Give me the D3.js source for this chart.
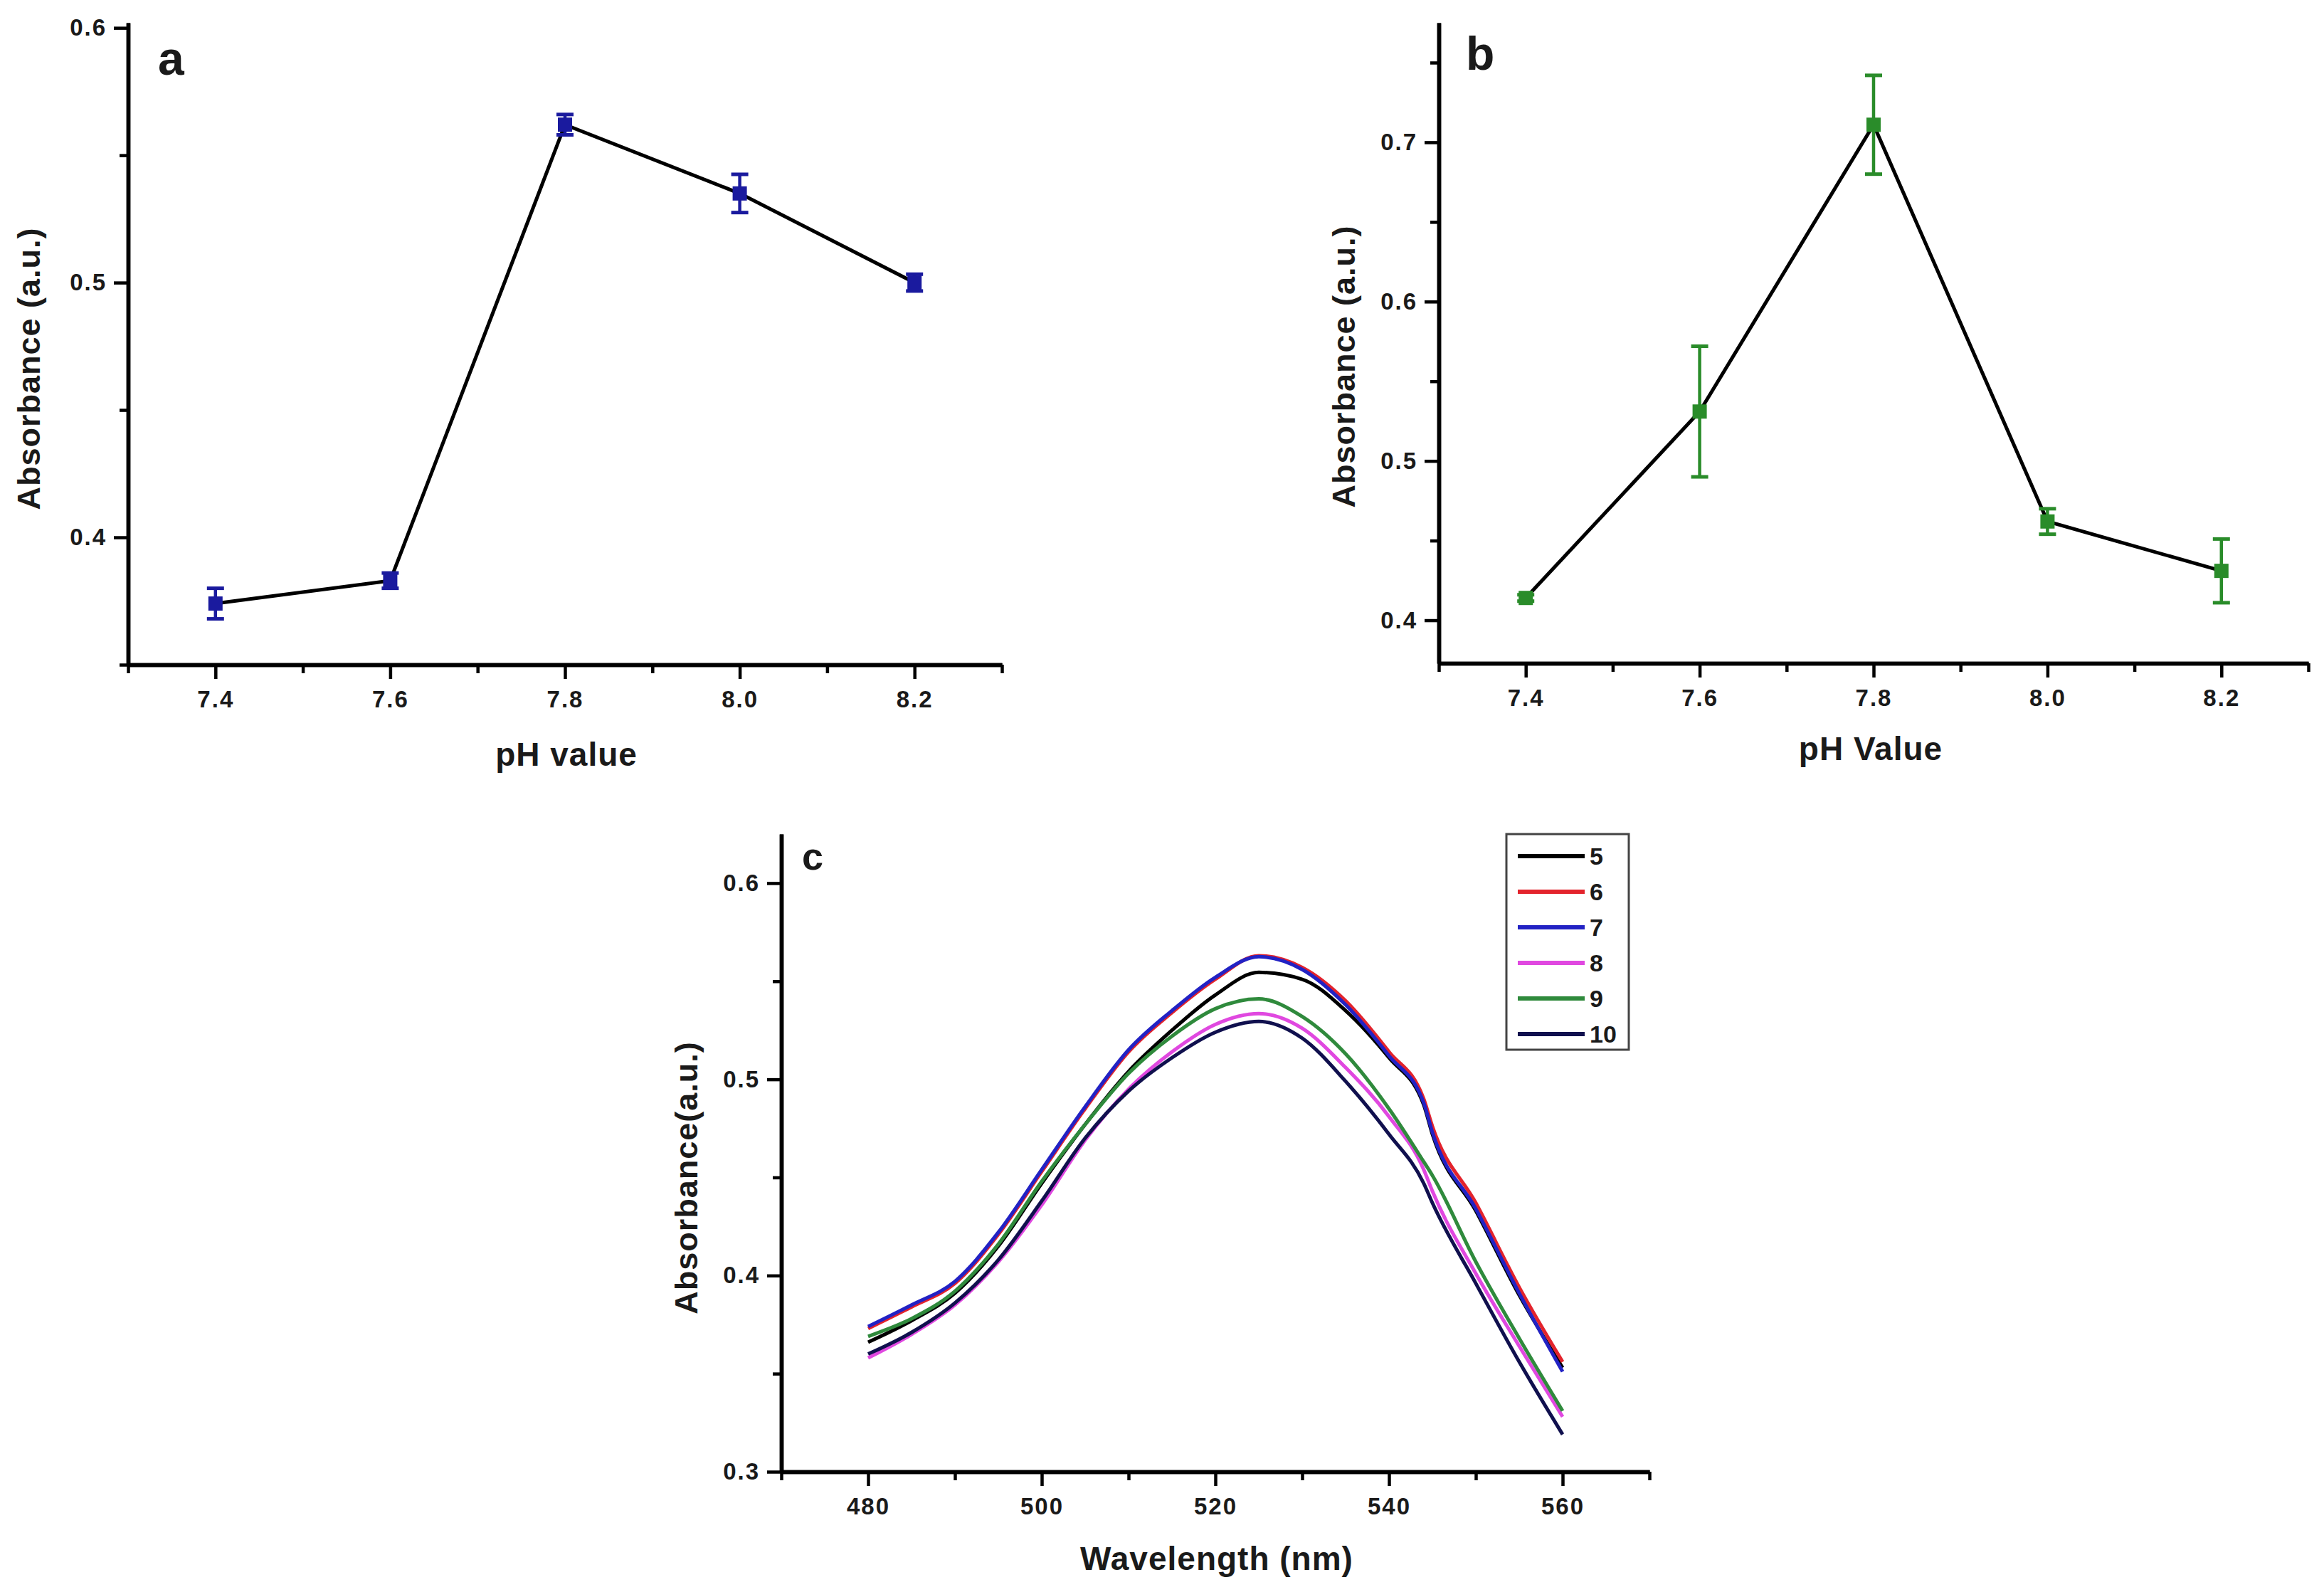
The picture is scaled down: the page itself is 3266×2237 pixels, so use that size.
<!DOCTYPE html>
<html>
<head>
<meta charset="utf-8">
<script src="https://cdn.jsdelivr.net/npm/d3@7/dist/d3.min.js"></script>
<style>
  body { margin: 0; background: #fff; }
  svg { display: block; }
  text { font-family: "Liberation Sans", Arial, sans-serif; font-weight: bold; }
</style>
</head>
<body>
<svg></svg>
<script>
const width = 3266
const height = 2237

// ---- data ----
// panel a / b : absorbance vs pH
const phValues = [7.4, 7.6, 7.8, 8.0, 8.2]
const absA = [0.374, 0.383, 0.562, 0.535, 0.500]
const errA = [0.006, 0.003, 0.004, 0.0075, 0.0033]
const absB = [0.414, 0.531, 0.711, 0.462, 0.431]
const errB = [0.002, 0.041, 0.031, 0.008, 0.020]

// panel c : spectra
const wavelength = [480, 485, 490, 495, 500, 505, 510, 515, 520, 525, 530, 535, 540, 544, 545, 550, 555, 560]
const spec5 = [0.366, 0.377, 0.391, 0.415, 0.447, 0.477, 0.504, 0.525, 0.543, 0.5545, 0.551, 0.535, 0.511, 0.487, 0.472, 0.433, 0.390, 0.353]
const spec6 = [0.373, 0.384, 0.396, 0.421, 0.453, 0.485, 0.514, 0.534, 0.551, 0.563, 0.557, 0.540, 0.514, 0.490, 0.476, 0.437, 0.394, 0.356]
const spec7 = [0.374, 0.385, 0.397, 0.422, 0.454, 0.486, 0.515, 0.535, 0.552, 0.5625, 0.556, 0.538, 0.512, 0.488, 0.473, 0.434, 0.391, 0.351]
const spec8 = [0.358, 0.370, 0.385, 0.407, 0.436, 0.469, 0.495, 0.514, 0.528, 0.5335, 0.526, 0.506, 0.481, 0.454, 0.443, 0.401, 0.364, 0.328]
const spec9 = [0.369, 0.378, 0.392, 0.416, 0.448, 0.477, 0.503, 0.522, 0.536, 0.541, 0.532, 0.513, 0.485, 0.458, 0.451, 0.407, 0.368, 0.331]
const spec10 = [0.360, 0.371, 0.386, 0.408, 0.438, 0.470, 0.494, 0.511, 0.524, 0.5295, 0.521, 0.499, 0.472, 0.447, 0.437, 0.396, 0.356, 0.319]
const specNames = ["5", "6", "7", "8", "9", "10"]
const specColors = ["#000000", "#e3232c", "#2222c4", "#e048e0", "#2f8a3c", "#10104e"]

const phTicks = [7.4, 7.6, 7.8, 8.0, 8.2]
const phMinor = [7.3, 7.5, 7.7, 7.9, 8.1, 8.3]

const svg = d3.select("svg")
    .attr("width", width)
    .attr("height", height)

svg.append("rect").attr("width", width).attr("height", height).attr("fill", "#fff")

// draws one set of axes, major + minor ticks
const drawAxes = (xScale, yScale, xMajor, xMinor, yMajor, yMinor, xFmt, yFmt) => {
    const x0 = xScale.range()[0]
    const y0 = yScale.range()[0]

    const xAxis = d3.axisBottom(xScale).tickValues(xMajor).tickFormat(xFmt)
        .tickSize(20).tickSizeOuter(0).tickPadding(17)
    const xMinorAxis = d3.axisBottom(xScale).tickValues(xMinor).tickFormat("")
        .tickSize(12).tickSizeOuter(0)
    const yAxis = d3.axisLeft(yScale).tickValues(yMajor).tickFormat(yFmt)
        .tickSize(20).tickSizeOuter(0).tickPadding(10)
    const yMinorAxis = d3.axisLeft(yScale).tickValues(yMinor).tickFormat("")
        .tickSize(12).tickSizeOuter(0)

    const gs = [
        svg.append("g").attr("transform", `translate(0, ${y0})`).call(xMinorAxis),
        svg.append("g").attr("transform", `translate(0, ${y0})`).call(xAxis),
        svg.append("g").attr("transform", `translate(${x0}, 0)`).call(yMinorAxis),
        svg.append("g").attr("transform", `translate(${x0}, 0)`).call(yAxis)
    ]
    gs.forEach(g => {
        g.selectAll(".domain").attr("stroke", "#000").attr("stroke-width", 5.5)
        g.selectAll(".tick line").attr("stroke", "#000").attr("stroke-width", 4.5)
        g.selectAll(".tick text").attr("font-size", "33px").attr("fill", "#1a1a1a")
            .attr("letter-spacing", "2px")
            .attr("font-family", "Liberation Sans, Arial, sans-serif")
    })
}

const title = (txt, x, y, size, rotate) => {
    const t = svg.append("text")
        .text(txt)
        .attr("font-size", size + "px")
        .attr("fill", "#1a1a1a")
        .attr("letter-spacing", "1px")
        .attr("text-anchor", "middle")
    if (rotate) t.attr("transform", `translate(${x}, ${y}) rotate(-90)`)
    else t.attr("x", x).attr("y", y)
    return t
}

// error-bar plot (panels a, b)
const drawPoints = (xScale, yScale, ys, errs, color) => {
    const pts = phValues.map((p, i) => ({ x: p, y: ys[i], e: errs[i] }))
    const line = d3.line().x(d => xScale(d.x)).y(d => yScale(d.y))
    svg.append("path").datum(pts)
        .attr("d", line)
        .attr("fill", "none")
        .attr("stroke", "#000")
        .attr("stroke-width", 5)

    const g = svg.append("g")
    const cap = 12
    g.selectAll(".bar").data(pts).enter().append("line")
        .attr("x1", d => xScale(d.x)).attr("x2", d => xScale(d.x))
        .attr("y1", d => yScale(d.y - d.e)).attr("y2", d => yScale(d.y + d.e))
        .attr("stroke", color).attr("stroke-width", 4.5)
    g.selectAll(".capT").data(pts).enter().append("line")
        .attr("x1", d => xScale(d.x) - cap).attr("x2", d => xScale(d.x) + cap)
        .attr("y1", d => yScale(d.y + d.e)).attr("y2", d => yScale(d.y + d.e))
        .attr("stroke", color).attr("stroke-width", 5)
    g.selectAll(".capB").data(pts).enter().append("line")
        .attr("x1", d => xScale(d.x) - cap).attr("x2", d => xScale(d.x) + cap)
        .attr("y1", d => yScale(d.y - d.e)).attr("y2", d => yScale(d.y - d.e))
        .attr("stroke", color).attr("stroke-width", 5)
    g.selectAll("rect").data(pts).enter().append("rect")
        .attr("x", d => xScale(d.x) - 10).attr("y", d => yScale(d.y) - 10)
        .attr("width", 20).attr("height", 20)
        .attr("fill", color)
}

const fmt1 = d3.format(".1f")

// ---- panel a ----
const xA = d3.scaleLinear().domain([7.3, 8.3]).range([180, 1408])
const yA = d3.scaleLinear().domain([0.35, 0.602]).range([934, 32])
drawAxes(xA, yA, phTicks, phMinor, [0.4, 0.5, 0.6], [0.35, 0.45, 0.55], fmt1, fmt1)
drawPoints(xA, yA, absA, errA, "#1a1a9e")
title("pH value", 796, 1076, 46)
title("Absorbance (a.u.)", 56, 518, 45, true)
svg.append("text").text("a").attr("x", 222).attr("y", 105)
    .attr("font-size", "66px").attr("fill", "#1a1a1a")

// ---- panel b ----
const xB = d3.scaleLinear().domain([7.3, 8.3]).range([2022, 3244])
const yB = d3.scaleLinear().domain([0.373, 0.775]).range([932, 32])
drawAxes(xB, yB, phTicks, phMinor, [0.4, 0.5, 0.6, 0.7], [0.45, 0.55, 0.65, 0.75], fmt1, fmt1)
drawPoints(xB, yB, absB, errB, "#2a8c2a")
title("pH Value", 2629, 1068, 46)
title("Absorbance (a.u.)", 1904, 515, 45, true)
svg.append("text").text("b").attr("x", 2060).attr("y", 98)
    .attr("font-size", "66px").attr("fill", "#1a1a1a")

// ---- panel c ----
const xC = d3.scaleLinear().domain([470, 570]).range([1098, 2318])
const yC = d3.scaleLinear().domain([0.3, 0.625]).range([2068, 1172])
drawAxes(xC, yC, [480, 500, 520, 540, 560], [470, 490, 510, 530, 550, 570],
    [0.3, 0.4, 0.5, 0.6], [0.35, 0.45, 0.55], d3.format("d"), fmt1)

const specs = [spec5, spec6, spec7, spec8, spec9, spec10]
const specLine = d3.line()
    .x((d, i) => xC(wavelength[i]))
    .y(d => yC(d))
    .curve(d3.curveMonotoneX)

svg.append("g").selectAll("path").data(specs).enter().append("path")
    .attr("d", d => specLine(d))
    .attr("fill", "none")
    .attr("stroke", (d, i) => specColors[i])
    .attr("stroke-width", 5)
    .attr("stroke-linejoin", "round")

title("Wavelength (nm)", 1710, 2206, 46)
title("Absorbance(a.u.)", 980, 1655, 45, true)
svg.append("text").text("c").attr("x", 1127).attr("y", 1222)
    .attr("font-size", "54px").attr("fill", "#1a1a1a")

// legend
const legend = svg.append("g")
legend.append("rect")
    .attr("x", 2117).attr("y", 1172).attr("width", 172).attr("height", 303)
    .attr("fill", "#fff").attr("stroke", "#444").attr("stroke-width", 3)
const rowY = d3.scalePoint().domain(specNames).range([1203, 1453])
specNames.forEach((n, i) => {
    legend.append("line")
        .attr("x1", 2133).attr("x2", 2227)
        .attr("y1", rowY(n)).attr("y2", rowY(n))
        .attr("stroke", specColors[i]).attr("stroke-width", 6)
    legend.append("text").text(n)
        .attr("x", 2234).attr("y", rowY(n)).attr("dy", "0.36em")
        .attr("font-size", "34px").attr("fill", "#1a1a1a")
})
</script>
</body>
</html>
